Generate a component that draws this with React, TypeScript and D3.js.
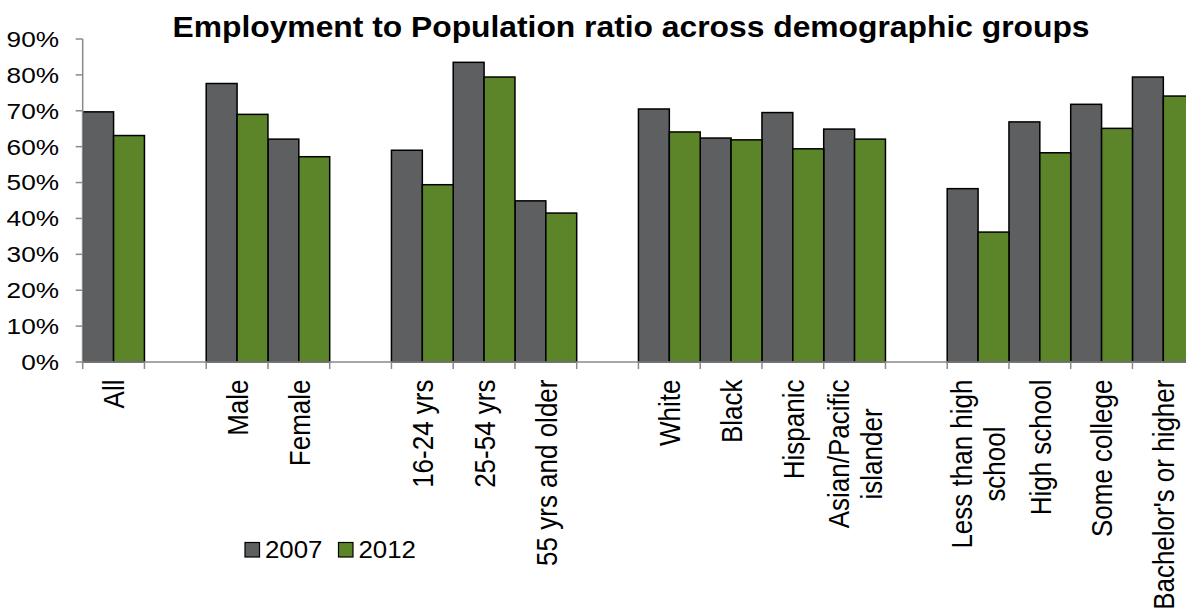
import React from "react";
import * as d3 from "d3";

const title = "Employment to Population ratio across demographic groups";
const categories: string[][] = [
  ["All"], [], ["Male"], ["Female"], [],
  ["16-24 yrs"], ["25-54 yrs"], ["55 yrs and older"], [],
  ["White"], ["Black"], ["Hispanic"], ["Asian/Pacific", "islander"], [],
  ["Less than high", "school"], ["High school"], ["Some college"], ["Bachelor's or higher"],
];
const values2007: (number | null)[] = [
  69.7, null, 77.6, 62.1, null, 59.0, 83.5, 44.9, null,
  70.5, 62.4, 69.5, 64.9, null, 48.3, 66.9, 71.8, 79.4,
];
const values2012: (number | null)[] = [
  63.1, null, 69.0, 57.2, null, 49.4, 79.4, 41.5, null,
  64.1, 61.9, 59.4, 62.1, null, 36.2, 58.3, 65.1, 74.1,
];
const yTicks = [0, 10, 20, 30, 40, 50, 60, 70, 80, 90];
const seriesNames = ["2007", "2012"];
const seriesColors = ["#5e5f61", "#5b8528"];

const W = 1186;
const H = 614;
const SX = 1.16;
const FONT = "'Liberation Sans', Arial, sans-serif";
const LABEL_SIZE = 26;

let ctx: CanvasRenderingContext2D | null = null;
function measure(t: string, size: number) {
  if (!ctx) ctx = document.createElement("canvas").getContext("2d");
  if (!ctx) return t.length * size * 0.5;
  ctx.font = `${size}px ${FONT}`;
  return ctx.measureText(t).width;
}

export default function App() {
  const left = 82.7;
  const slotW = 61.75;
  const x = d3
    .scaleBand<number>()
    .domain(d3.range(categories.length))
    .range([left, left + slotW * categories.length])
    .padding(0);
  const y = d3.scaleLinear().domain([0, 90]).range([362, 39]);
  const bw = x.bandwidth() / 2;
  const axisColor = "#8a8a8a";
  const series = [values2007, values2012];

  return (
    <svg
      width={W}
      height={H}
      style={{ position: "absolute", left: 0, top: 0, background: "#fff" }}
      fontFamily={FONT}
    >
      <text
        x={631}
        y={36.5}
        textAnchor="middle"
        fontWeight="bold"
        fontSize={29}
        textLength={917}
        lengthAdjust="spacingAndGlyphs"
        fill="#000"
      >
        {title}
      </text>

      {/* bars */}
      {series.map((vals, si) =>
        vals.map((v, i) =>
          v == null ? null : (
            <rect
              key={`${si}-${i}`}
              x={(x(i) as number) + si * bw}
              y={y(v)}
              width={bw}
              height={y(0) - y(v)}
              fill={seriesColors[si]}
              stroke="#000"
              strokeWidth={1.5}
            />
          )
        )
      )}

      {/* y axis */}
      <line x1={left} x2={left} y1={y(90)} y2={y(0)} stroke={axisColor} strokeWidth={1.5} />
      {yTicks.map((t) => (
        <g key={t}>
          <line x1={left - 7} x2={left} y1={y(t)} y2={y(t)} stroke={axisColor} strokeWidth={1.5} />
          <text
            transform={`translate(59,${y(t)}) scale(${SX + 0.03},1)`}
            textAnchor="end"
            dy="0.36em"
            fontSize={22}
            fill="#000"
          >
            {t}%
          </text>
        </g>
      ))}

      {/* x axis */}
      <line x1={left} x2={W} y1={y(0)} y2={y(0)} stroke={axisColor} strokeWidth={1.5} />
      {d3.range(categories.length + 1).map((i) => {
        const xx = left + i * slotW;
        return <line key={i} x1={xx} x2={xx} y1={y(0)} y2={y(0) + 7} stroke={axisColor} strokeWidth={1.5} />;
      })}

      {/* category labels */}
      {categories.map((lines, i) => {
        if (!lines.length) return null;
        const cx = (x(i) as number) + x.bandwidth() / 2;
        const maxLen = Math.max(...lines.map((l) => measure(l, LABEL_SIZE)));
        const top = 379.5;
        const lh = 33;
        return lines.map((l, li) => {
          const off = (li - (lines.length - 1) / 2) * lh;
          return (
            <text
              key={`${i}-${li}`}
              transform={`translate(${cx + off},${top + maxLen / 2}) scale(${SX},1) rotate(-90)`}
              textAnchor="middle"
              dy="0.36em"
              fontSize={LABEL_SIZE}
              fill="#000"
            >
              {l}
            </text>
          );
        });
      })}

      {/* legend */}
      {seriesNames.map((n, i) => {
        const lx = [245, 338.5][i];
        return (
          <g key={n}>
            <rect x={lx} y={542.5} width={14.5} height={14.5} fill={seriesColors[i]} stroke="#000" strokeWidth={1.2} />
            <text
              transform={`translate(${lx + 20},${549.5}) scale(1.1,1)`}
              dy="0.36em"
              fontSize={23.5}
              fill="#000"
            >
              {n}
            </text>
          </g>
        );
      })}
    </svg>
  );
}
